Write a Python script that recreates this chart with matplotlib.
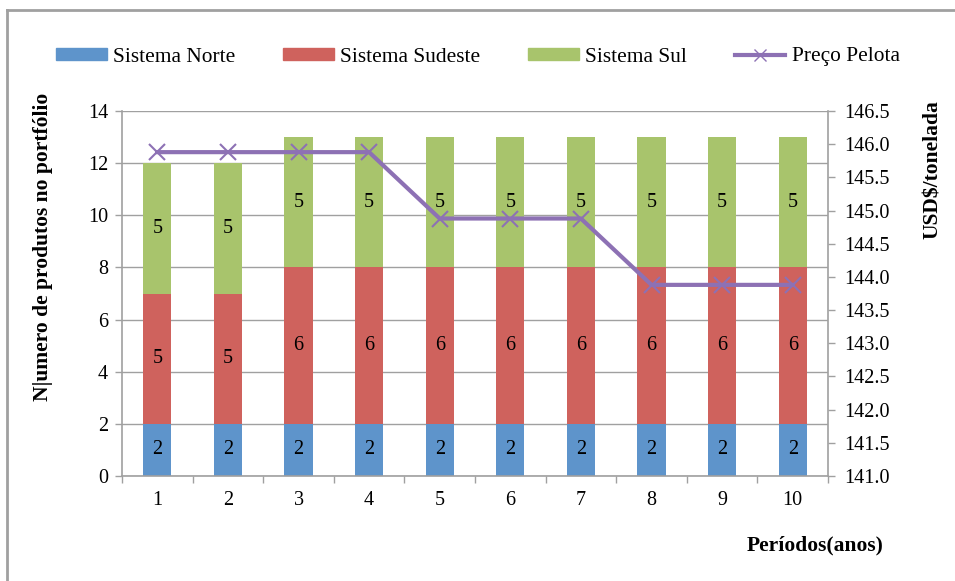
import numpy as np
import matplotlib as mpl
mpl.use('Agg')
import matplotlib.pyplot as plt
from matplotlib import patches
from matplotlib.lines import Line2D

mpl.rc('font', family='Liberation Serif', size=14.5)

# --- data ---
periodos = ['1', '2', '3', '4', '5', '6', '7', '8', '9', '10']
norte = [2, 2, 2, 2, 2, 2, 2, 2, 2, 2]
sudeste = [5, 5, 6, 6, 6, 6, 6, 6, 6, 6]
sul = [5, 5, 5, 5, 5, 5, 5, 5, 5, 5]
preco = [145.88, 145.88, 145.88, 145.88, 144.88, 144.88, 144.88, 143.88, 143.88, 143.88]

c_norte = '#5E94CB'
c_sudeste = '#CF625D'
c_sul = '#A8C46C'
c_preco = '#8D71B4'
gray = '#A0A0A0'

fig = plt.figure(figsize=(9.55, 5.81), dpi=100)
ax = fig.add_axes([122/955, 1-476/581, (828-122)/955, (476-111)/581])

x = np.arange(len(periodos))
w = 0.4
b1 = ax.bar(x, norte, w, color=c_norte, zorder=2)
b2 = ax.bar(x, sudeste, w, bottom=norte, color=c_sudeste, zorder=2)
bot3 = np.array(norte) + np.array(sudeste)
b3 = ax.bar(x, sul, w, bottom=bot3, color=c_sul, zorder=2)
for bars in (b1, b2, b3):
    ax.bar_label(bars, label_type='center', fontsize=14.5)

ax.set_xlim(-0.5, len(periodos) - 0.5)
ax.set_ylim(0, 14)
ax.set_yticks(np.arange(0, 15, 2))
ax.set_xticks(x)
ax.set_xticklabels(periodos)
ax.set_xticks(np.arange(-0.5, len(periodos)), minor=True)
ax.tick_params(axis='x', which='major', length=0, pad=11)
ax.tick_params(axis='x', which='minor', length=5, color=gray, width=1)
ax.tick_params(axis='y', length=5, color=gray, width=1, pad=5)
ax.yaxis.grid(True, color=gray, lw=1, zorder=0)
ax.set_axisbelow(True)
for s in ['top', 'right']:
    ax.spines[s].set_visible(False)
for s in ['left', 'bottom']:
    ax.spines[s].set_color(gray)
    ax.spines[s].set_linewidth(1.2)
ax.set_ylabel('N|umero de produtos no portfólio', fontweight='bold', fontsize=15.5)
ax.yaxis.set_label_coords((53-122)/706, (476-247)/365)

ax2 = ax.twinx()
ax2.plot(x, preco, color=c_preco, lw=3, marker='x', markersize=11, mew=1.5, zorder=3)
ax2.set_ylim(141.0, 146.5)
ax2.set_yticks(np.arange(141.0, 146.51, 0.5))
ax2.set_yticklabels(['%.1f' % v for v in np.arange(141.0, 146.51, 0.5)])
ax2.tick_params(axis='y', length=5, color=gray, width=1, pad=7)
for s in ['top', 'left', 'bottom']:
    ax2.spines[s].set_visible(False)
ax2.spines['right'].set_color(gray)
ax2.spines['right'].set_linewidth(1.2)
ax2.set_ylabel('USD$/tonelada', fontweight='bold', fontsize=15.5)
ax2.yaxis.set_label_coords((923-122)/706, (476-170)/365)

fig.text(815/955, 1-545/581, 'Períodos(anos)', fontweight='bold', fontsize=15.5,
         ha='center', va='center')

handles = [patches.Patch(color=c_norte), patches.Patch(color=c_sudeste),
           patches.Patch(color=c_sul),
           Line2D([], [], color=c_preco, lw=3, marker='x', markersize=9)]
labels = ['Sistema Norte', 'Sistema Sudeste', 'Sistema Sul', 'Preço Pelota']
fig.legend(handles, labels, loc='center', bbox_to_anchor=(478/955, 1-57/581), ncol=4,
           frameon=False, fontsize=15.4, handlelength=2.35, handleheight=0.5,
           handletextpad=0.3, columnspacing=2.25)

# outer frame
fig.add_artist(Line2D([7/955, 1], [1-10/581, 1-10/581], color=gray, lw=2,
                      transform=fig.transFigure))
fig.add_artist(Line2D([7/955, 7/955], [0, 1-10/581], color=gray, lw=2,
                      transform=fig.transFigure))

fig.savefig('out.png', dpi=100)
